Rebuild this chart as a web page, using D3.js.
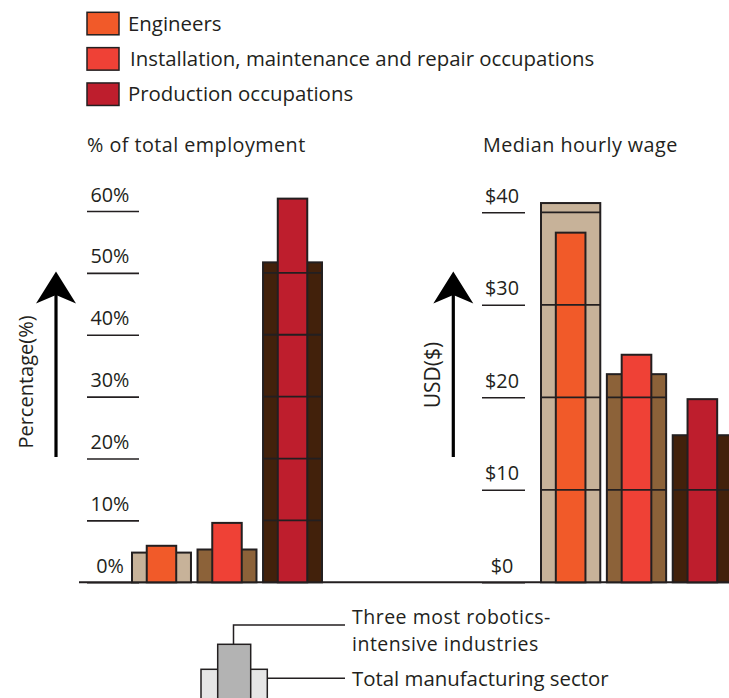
<!DOCTYPE html>
<html>
<head>
<meta charset="utf-8">
<script src="https://cdn.jsdelivr.net/npm/d3@7"></script>
<style>
  body { margin: 0; background: #fff; }
  svg { display: block; }
  text { font-family: "Open Sans", sans-serif; fill: #231f20; }
</style>
</head>
<body>
<svg id="chart" width="729" height="698"></svg>
<script>
// Occupation groups and their values
const categories = ["Engineers", "Installation, maintenance and repair occupations", "Production occupations"];
// % of total employment
const employmentRobotics = [5.9, 9.6, 62.0];       // three most robotics-intensive industries
const employmentManufacturing = [4.8, 5.3, 51.7];  // total manufacturing sector
// Median hourly wage, USD
const wageRobotics = [37.8, 24.6, 19.8];
const wageManufacturing = [41.0, 22.5, 15.9];
// Axis ticks
const employmentTicks = [0, 10, 20, 30, 40, 50, 60];
const employmentTickLabels = ["0%", "10%", "20%", "30%", "40%", "50%", "60%"];
const wageTicks = [0, 10, 20, 30, 40];
const wageTickLabels = ["$0", "$10", "$20", "$30", "$40"];

// Palettes: bright fill for robotics-intensive industries, earthy fill for the whole sector
const occupationColor = d3.scaleOrdinal(categories, ["#F15A29", "#EF4136", "#BE1E2D"]);
const sectorColor = d3.scaleOrdinal(categories, ["#C7B299", "#8C6239", "#42210B"]);

const ink = "#231f20";
const svg = d3.select("#chart");
const baseY = 582.3;

// ---- Legend (top) ----
const legend = svg.append("g");
const legendRow = d3.scaleBand().domain(categories).range([12, 118]).paddingInner(0);
legend.selectAll("rect").data(categories).join("rect")
  .attr("x", 87).attr("y", d => legendRow(d) + 0.3)
  .attr("width", 32).attr("height", 22.5)
  .attr("fill", d => occupationColor(d))
  .attr("stroke", ink).attr("stroke-width", 1.5);
legend.selectAll("text").data(categories).join("text")
  .attr("x", (d, i) => i === 1 ? 130 : 128).attr("y", d => legendRow(d) + 18.8)
  .attr("font-size", 20.4)
  .text(d => d);

// ---- Shared baseline ----
svg.append("line")
  .attr("x1", 79).attr("x2", 729).attr("y1", baseY).attr("y2", baseY)
  .attr("stroke", ink).attr("stroke-width", 2);

// ---- One panel of paired bars ----
function drawPanel(cfg) {
  const g = svg.append("g");
  const y = d3.scaleLinear().domain(cfg.domain).range([baseY, cfg.top]);
  const x = d3.scaleBand().domain(categories).range(cfg.xRange).paddingInner(0.1);
  const innerW = x.bandwidth() * 0.5;

  // short tick rules with labels sitting above them
  const axis = d3.axisRight(y)
    .tickValues(cfg.ticks)
    .tickFormat((d, i) => cfg.tickLabels[i])
    .tickSize(cfg.tickLen)
    .tickPadding(0);
  const ag = g.append("g").attr("transform", `translate(${cfg.tickX},0)`).call(axis);
  ag.select(".domain").remove();
  ag.selectAll(".tick line").attr("stroke", ink).attr("stroke-width", 1.6);
  ag.selectAll(".tick text")
    .attr("x", cfg.labelDx).attr("y", -10).attr("dy", 0)
    .attr("text-anchor", "middle")
    .attr("font-size", 19.8)
    .attr("font-family", "Open Sans, sans-serif")
    .attr("fill", ink);

  const rows = categories.map((c, i) => ({ c, outer: cfg.outer[i], inner: cfg.inner[i] }));
  const bars = g.append("g").selectAll("g").data(rows).join("g");

  // whole-sector bar (wide)
  bars.append("rect")
    .attr("x", d => x(d.c)).attr("width", x.bandwidth())
    .attr("y", d => y(d.outer)).attr("height", d => y(0) - y(d.outer))
    .attr("fill", d => sectorColor(d.c))
    .attr("stroke", ink).attr("stroke-width", 2);

  // robotics-intensive bar (narrow, centred)
  bars.append("rect")
    .attr("x", d => x(d.c) + (x.bandwidth() - innerW) / 2).attr("width", innerW)
    .attr("y", d => y(d.inner)).attr("height", d => y(0) - y(d.inner))
    .attr("fill", d => occupationColor(d.c))
    .attr("stroke", ink).attr("stroke-width", 2);

  // scale rules running across each wide bar
  bars.each(function (d) {
    d3.select(this).selectAll("line.rule")
      .data(cfg.ticks.filter(t => t > 0 && t < d.outer))
      .join("line").attr("class", "rule")
      .attr("x1", x(d.c)).attr("x2", x(d.c) + x.bandwidth())
      .attr("y1", t => y(t)).attr("y2", t => y(t))
      .attr("stroke", ink).attr("stroke-width", 1.8);
  });

  // panel heading
  g.append("text")
    .attr("x", cfg.titleX).attr("y", 152)
    .attr("font-size", 19.8).attr("letter-spacing", 0.45)
    .text(cfg.title);

  // upward arrow
  const ax = cfg.arrowX;
  g.append("line")
    .attr("x1", ax).attr("x2", ax).attr("y1", 457).attr("y2", 292)
    .attr("stroke", "#000").attr("stroke-width", 3.2);
  g.append("path")
    .attr("d", `M${ax},271.5 L${ax + 20},303.5 L${ax},295 L${ax - 20},303.5 Z`)
    .attr("fill", "#000");

  // rotated axis title
  g.append("text")
    .attr("transform", `translate(${cfg.axisTitleX},${cfg.axisTitleY}) rotate(-90)`)
    .attr("text-anchor", "middle")
    .attr("font-size", cfg.axisTitleSize)
    .text(cfg.axisTitle);
}

drawPanel({
  domain: [0, 60], top: 211, xRange: [132, 322],
  ticks: employmentTicks, tickLabels: employmentTickLabels,
  tickX: 87, tickLen: 52, labelDx: 23,
  outer: employmentManufacturing, inner: employmentRobotics,
  title: "% of total employment", titleX: 87,
  arrowX: 56, axisTitle: "Percentage(%)", axisTitleX: 33, axisTitleY: 382, axisTitleSize: 20
});

drawPanel({
  domain: [0, 40], top: 212.3, xRange: [541, 732],
  ticks: wageTicks, tickLabels: wageTickLabels,
  tickX: 482, tickLen: 43, labelDx: 20,
  outer: wageManufacturing, inner: wageRobotics,
  title: "Median hourly wage", titleX: 483,
  arrowX: 453.3, axisTitle: "USD($)", axisTitleX: 440, axisTitleY: 375, axisTitleSize: 21
});

// ---- Key for the bar pairs (bottom) ----
const key = svg.append("g");
key.append("rect").attr("x", 201).attr("y", 669.3).attr("width", 66.3).attr("height", 40)
  .attr("fill", "#E6E6E6").attr("stroke", ink).attr("stroke-width", 1.5);
key.append("rect").attr("x", 217.7).attr("y", 644.3).attr("width", 33).attr("height", 65)
  .attr("fill", "#B3B3B3").attr("stroke", ink).attr("stroke-width", 1.5);
key.append("path")
  .attr("d", "M233.5,644.3 V625 H345 M267.3,678.3 H345")
  .attr("fill", "none").attr("stroke", ink).attr("stroke-width", 1.5);

// two-line label for the narrow bar, one label for the wide bar
const keyRobotics = key.append("text").attr("x", 352).attr("y", 623.5)
  .attr("font-size", 19.5).attr("letter-spacing", 0.5);
keyRobotics.selectAll("tspan").data(["Three most robotics-", "intensive industries"]).join("tspan")
  .attr("x", 352).attr("dy", (d, i) => i === 0 ? 0 : 27)
  .text(d => d);
key.append("text").attr("x", 352).attr("y", 686).attr("font-size", 20.4)
  .text("Total manufacturing sector");
</script>
</body>
</html>
